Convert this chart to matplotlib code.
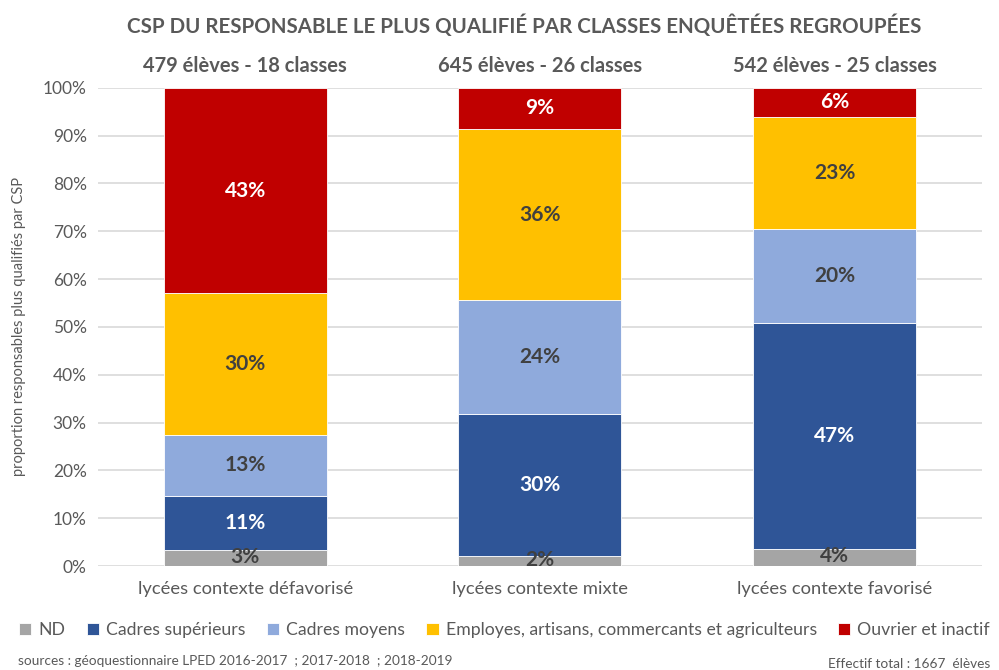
import matplotlib.pyplot as plt
import numpy as np

plt.rcParams['font.family'] = ['Lato', 'DejaVu Sans']

categories = ["lycées contexte défavorisé", "lycées contexte mixte", "lycées contexte favorisé"]
headers = ["479 élèves - 18 classes", "645 élèves - 26 classes", "542 élèves - 25 classes"]
series_names = ["ND", "Cadres supérieurs", "Cadres moyens",
                "Employes, artisans, commercants et agriculteurs", "Ouvrier et inactif"]
nd = [3.35, 2.1, 3.6]
cadres_sup = [11.4, 29.7, 47.2]
cadres_moy = [12.7, 23.8, 19.7]
employes = [29.6, 35.8, 23.4]
ouvriers = [42.95, 8.6, 6.1]

couleurs = ["#a5a5a5", "#2f5597", "#8faadc", "#ffc000", "#c00000"]
couleurs_texte = ["#404040", "white", "#404040", "#404040", "white"]
gris = "#595959"

fig = plt.figure(figsize=(9.99, 6.70), dpi=100)
ax = fig.add_axes([0.098, 0.155, 0.885, 0.714])

xs = np.arange(len(categories))
bottom = np.zeros(len(categories))
for nom, valeurs, cor, cor_txt in zip(series_names, [nd, cadres_sup, cadres_moy, employes, ouvriers],
                                      couleurs, couleurs_texte):
    valeurs = np.array(valeurs)
    ax.bar(xs, valeurs, width=0.553, bottom=bottom, color=cor, label=nom,
           edgecolor="white", linewidth=0.6, zorder=3)
    for x, b, v in zip(xs, bottom, valeurs):
        y = b + v / 2 if v > 5 else b + v / 2 + 0.3
        ax.text(x, y, f"{v:.0f}%", ha="center", va="center", color=cor_txt,
                fontsize=15, fontweight="bold", zorder=4)
    bottom = bottom + valeurs

for x, h in zip(xs, headers):
    ax.text(x, 104.5, h, ha="center", va="center", color=gris, fontsize=14.5, fontweight="bold")

ax.set_xlim(-0.5, 2.5)
ax.set_ylim(0, 100)
ax.set_yticks(np.arange(0, 101, 10))
ax.set_yticklabels([f"{v}%" for v in range(0, 101, 10)])
ax.set_xticks(xs)
ax.set_xticklabels(categories)
ax.tick_params(axis="both", length=0, colors=gris, labelsize=12.5)
ax.tick_params(axis="x", pad=11, labelsize=13.2)
ax.tick_params(axis="y", pad=8)
ax.yaxis.grid(True, color="#d9d9d9", linewidth=1.2, zorder=0)
for s in ax.spines.values():
    s.set_visible(False)

ax.set_ylabel("proportion responsables plus qualifiés par CSP", color=gris, fontsize=10.5, labelpad=12)

fig.suptitle("CSP DU RESPONSABLE LE PLUS QUALIFIÉ PAR CLASSES ENQUÊTÉES REGROUPÉES",
             x=0.525, y=0.978, color=gris, fontsize=14.8, fontweight="bold")

leg = fig.legend(loc="center", bbox_to_anchor=(0.505, 0.059), ncol=5, frameon=False,
                 fontsize=12.7, handlelength=0.7, handleheight=0.7, handletextpad=0.4,
                 columnspacing=1.2)
for t in leg.get_texts():
    t.set_color(gris)

fig.text(0.018, 0.008, "sources : géoquestionnaire LPED 2016-2017  ; 2017-2018  ; 2018-2019",
         color=gris, fontsize=9.8)
fig.text(0.991, 0.003, "Effectif total : 1667  élèves", color=gris, fontsize=9.8, ha="right")

fig.savefig("out.png", dpi=100)
